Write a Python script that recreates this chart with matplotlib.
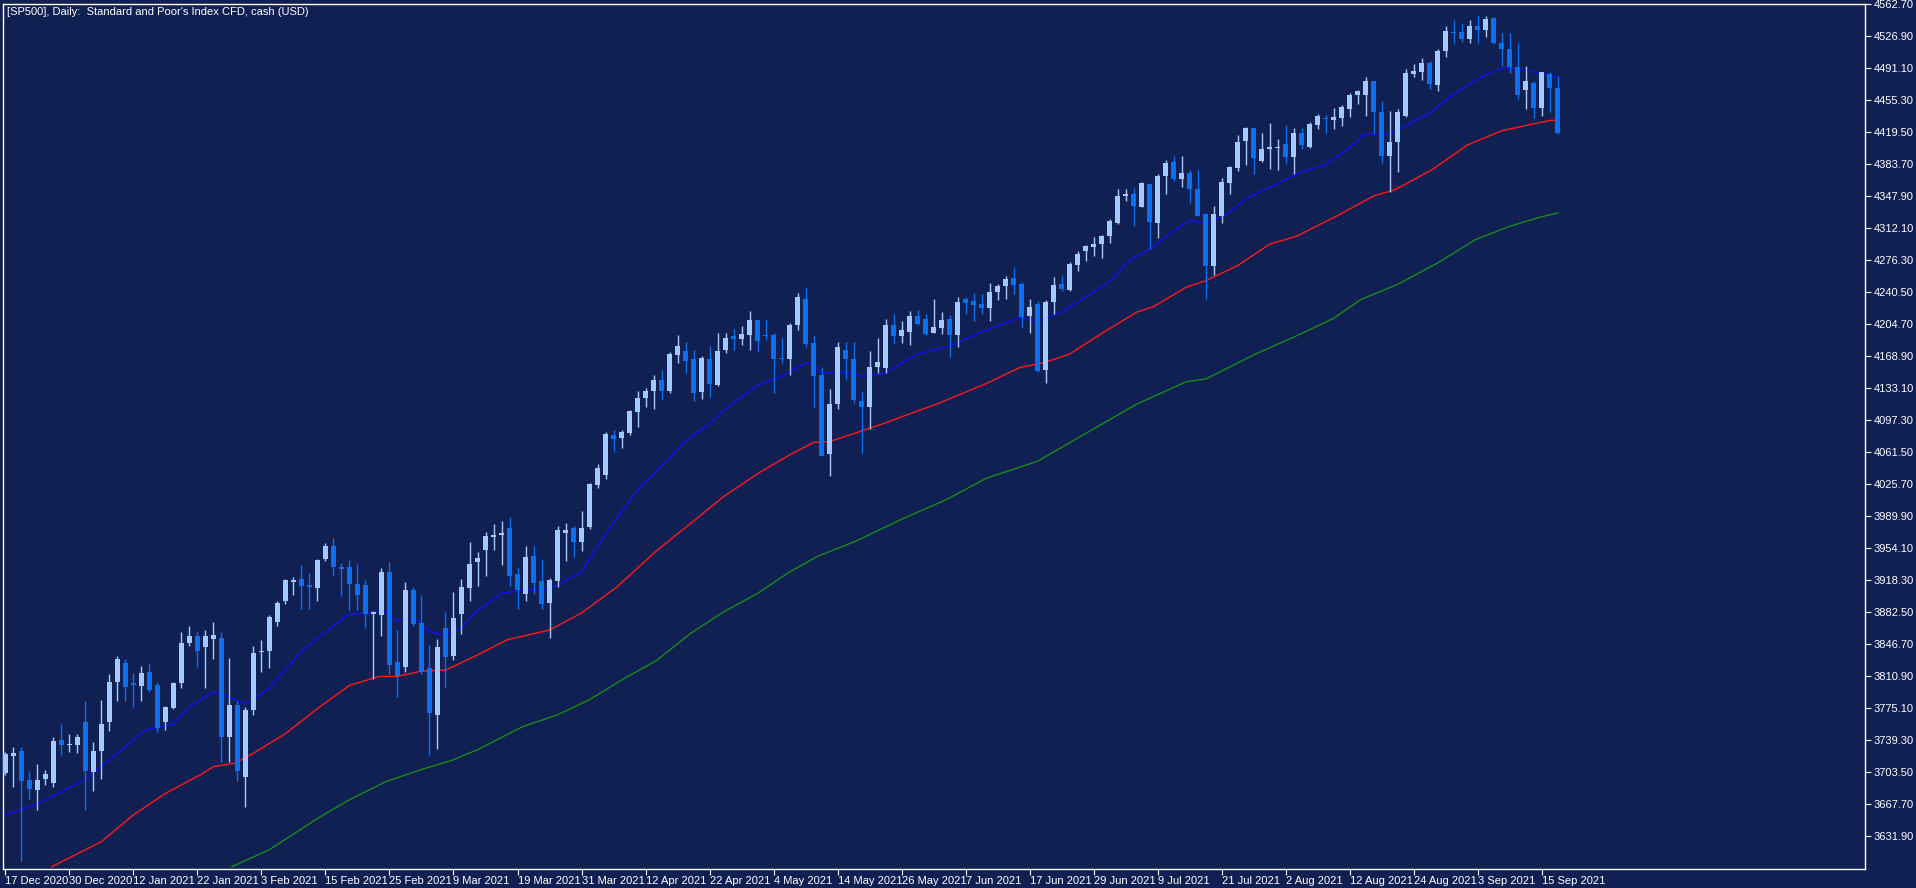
import matplotlib
matplotlib.use("Agg")
import matplotlib.pyplot as plt
import numpy as np

# ---- data ----
opens = [3702, 3721, 3727, 3694, 3683, 3695, 3691, 3739, 3733, 3733,
         3759, 3703, 3726, 3759, 3804, 3825, 3803, 3799, 3815, 3800,
         3759, 3775, 3803, 3848, 3855, 3843, 3852, 3853, 3742, 3778,
         3697, 3772, 3837, 3839, 3871, 3895, 3916, 3919, 3912, 3909,
         3941, 3956, 3933, 3933, 3914, 3912, 3880, 3879, 3927, 3826,
         3821, 3907, 3870, 3819, 3767, 3864, 3833, 3880, 3909, 3938,
         3952, 3966, 3968, 3976, 3925, 3902, 3945, 3917, 3892, 3917,
         3971, 3976, 3960, 3977, 4024, 4035, 4080, 4077, 4083, 4106,
         4122, 4130, 4142, 4130, 4170, 4174, 4165, 4128, 4165, 4136,
         4176, 4191, 4188, 4192, 4209, 4192, 4192, 4166, 4165, 4203,
         4233, 4183, 4147, 4059, 4115, 4175, 4165, 4118, 4112, 4157,
         4155, 4203, 4191, 4196, 4214, 4210, 4195, 4200, 4210, 4192,
         4233, 4230, 4227, 4223, 4240, 4247, 4256, 4249, 4214, 4227,
         4153, 4229, 4249, 4243, 4271, 4286, 4291, 4294, 4303, 4318,
         4348, 4350, 4336, 4361, 4318, 4370, 4386, 4367, 4374, 4356,
         4328, 4270, 4326, 4363, 4379, 4409, 4424, 4387, 4400, 4402,
         4406, 4392, 4418, 4403, 4427, 4435, 4433, 4435, 4445, 4461,
         4461, 4477, 4442, 4393, 4408, 4438, 4484, 4487, 4497, 4472,
         4510, 4532, 4531, 4524, 4538, 4534, 4547, 4519, 4512, 4492,
         4467, 4475, 4446, 4485, 4469]
highs = [3725, 3731, 3731, 3704, 3712, 3705, 3742, 3757, 3746, 3746,
         3782, 3737, 3784, 3813, 3833, 3829, 3814, 3822, 3824, 3804,
         3777, 3804, 3860, 3867, 3860, 3862, 3871, 3860, 3831, 3783,
         3776, 3844, 3851, 3879, 3895, 3919, 3921, 3935, 3926, 3941,
         3959, 3965, 3937, 3940, 3936, 3918, 3883, 3931, 3938, 3862,
         3916, 3910, 3901, 3845, 3852, 3882, 3905, 3919, 3961, 3949,
         3972, 3981, 3984, 3989, 3933, 3956, 3956, 3942, 3920, 3979,
         3982, 3979, 3995, 4027, 4048, 4084, 4086, 4086, 4108, 4130,
         4133, 4148, 4153, 4173, 4192, 4184, 4175, 4169, 4180, 4195,
         4195, 4199, 4202, 4219, 4210, 4210, 4194, 4189, 4206, 4239,
         4246, 4192, 4157, 4132, 4184, 4184, 4184, 4128, 4174, 4189,
         4210, 4216, 4208, 4219, 4220, 4216, 4233, 4218, 4215, 4235,
         4235, 4239, 4238, 4250, 4249, 4258, 4268, 4252, 4233, 4230,
         4231, 4257, 4259, 4274, 4286, 4293, 4302, 4304, 4322, 4356,
         4356, 4357, 4364, 4361, 4372, 4388, 4393, 4393, 4377, 4377,
         4329, 4337, 4368, 4381, 4416, 4425, 4425, 4418, 4430, 4412,
         4427, 4424, 4424, 4431, 4440, 4439, 4446, 4450, 4463, 4467,
         4481, 4477, 4454, 4443, 4445, 4490, 4496, 4502, 4499, 4513,
         4538, 4545, 4542, 4545, 4551, 4550, 4548, 4530, 4530, 4519,
         4493, 4477, 4487, 4487, 4482]
lows = [3700, 3686, 3603, 3673, 3661, 3688, 3686, 3722, 3725, 3724,
        3660, 3682, 3695, 3749, 3783, 3783, 3776, 3783, 3793, 3748,
        3750, 3774, 3797, 3844, 3821, 3797, 3829, 3714, 3714, 3693,
        3664, 3767, 3815, 3819, 3866, 3891, 3901, 3885, 3885, 3895,
        3939, 3923, 3900, 3884, 3884, 3864, 3807, 3855, 3813, 3787,
        3815, 3866, 3813, 3722, 3729, 3798, 3828, 3857, 3895, 3911,
        3922, 3952, 3935, 3911, 3885, 3895, 3902, 3886, 3853, 3910,
        3939, 3944, 3951, 3975, 4021, 4031, 4061, 4066, 4080, 4089,
        4112, 4110, 4120, 4127, 4161, 4150, 4118, 4121, 4123, 4135,
        4172, 4175, 4181, 4175, 4174, 4187, 4127, 4161, 4147, 4198,
        4179, 4111, 4057, 4034, 4110, 4142, 4116, 4060, 4087, 4150,
        4150, 4182, 4183, 4181, 4203, 4192, 4194, 4193, 4168, 4179,
        4216, 4208, 4216, 4208, 4231, 4233, 4238, 4201, 4194, 4151,
        4138, 4216, 4242, 4242, 4264, 4275, 4281, 4278, 4295, 4317,
        4342, 4314, 4336, 4289, 4301, 4350, 4365, 4358, 4340, 4326,
        4233, 4260, 4318, 4350, 4376, 4383, 4373, 4386, 4378, 4377,
        4384, 4372, 4400, 4402, 4423, 4418, 4423, 4426, 4436, 4451,
        4437, 4418, 4385, 4352, 4375, 4436, 4481, 4478, 4468, 4465,
        4504, 4518, 4520, 4519, 4519, 4526, 4518, 4493, 4486, 4457,
        4445, 4435, 4438, 4442, 4417]
closes = [3723, 3724, 3693, 3684, 3694, 3701, 3738, 3733, 3734, 3742,
          3704, 3727, 3757, 3804, 3830, 3798, 3800, 3814, 3795, 3752,
          3776, 3803, 3848, 3855, 3838, 3855, 3856, 3742, 3778, 3704,
          3772, 3836, 3839, 3877, 3892, 3918, 3918, 3911, 3910, 3940,
          3956, 3933, 3930, 3913, 3901, 3880, 3882, 3927, 3823, 3811,
          3907, 3869, 3815, 3769, 3843, 3832, 3875, 3910, 3936, 3943,
          3967, 3968, 3971, 3922, 3907, 3944, 3915, 3891, 3918, 3974,
          3974, 3960, 3976, 4025, 4043, 4081, 4076, 4084, 4107, 4122,
          4130, 4142, 4130, 4171, 4180, 4163, 4127, 4166, 4137, 4174,
          4189, 4188, 4193, 4209, 4186, 4191, 4165, 4165, 4204, 4235,
          4182, 4146, 4057, 4115, 4179, 4165, 4119, 4112, 4157, 4162,
          4203, 4191, 4198, 4214, 4205, 4193, 4201, 4209, 4192, 4229,
          4228, 4226, 4223, 4240, 4247, 4255, 4248, 4213, 4224, 4152,
          4229, 4248, 4244, 4272, 4283, 4292, 4294, 4303, 4320, 4348,
          4350, 4337, 4362, 4319, 4370, 4385, 4367, 4374, 4356, 4326,
          4270, 4328, 4364, 4380, 4408, 4424, 4390, 4400, 4403, 4402,
          4392, 4418, 4405, 4429, 4438, 4434, 4436, 4448, 4461, 4466,
          4477, 4442, 4393, 4408, 4442, 4486, 4488, 4497, 4473, 4510,
          4533, 4530, 4524, 4538, 4534, 4546, 4519, 4512, 4492, 4461,
          4477, 4446, 4487, 4469, 4418]

# moving averages as read (bar position, value)
ma_fast_x = [0, 4, 10, 14, 17.5, 21, 23, 26, 28, 30, 33, 37, 40, 43, 46, 47, 49, 50, 51.5,
             53, 55, 57, 58.6, 62, 65, 68, 72, 75.6, 79, 82.7, 85, 87.7, 90.6, 94, 97,
             100, 101, 102, 104.7, 107, 109.8, 112, 114, 118, 122.6, 126.8, 129, 131.8,
             135, 138, 140.5, 143, 146, 148, 150, 152.6, 155, 159, 162, 165, 168, 170,
             172.5, 174.7, 178, 181.6, 184.8, 187.4, 190, 192, 194]
ma_fast_y = [3655, 3667, 3695, 3724, 3750, 3757, 3776, 3793, 3787, 3779, 3797, 3838, 3860, 3880,
             3881, 3885, 3872, 3876, 3873, 3860, 3856, 3864, 3881, 3903, 3907, 3908, 3927,
             3977, 4019, 4052, 4074, 4091, 4114, 4136, 4146, 4161, 4160, 4149, 4151, 4146,
             4149, 4161, 4171, 4180, 4198, 4212, 4208, 4217, 4235, 4252, 4276, 4288, 4309,
             4321, 4317, 4327, 4345, 4362, 4375, 4383, 4402, 4418, 4416, 4425, 4441, 4466,
             4483, 4492, 4489, 4485, 4481]
ma_mid_x = [5.8, 12, 16, 20, 24.6, 26, 28.7, 31, 35, 39, 43, 46.7, 49, 52, 55, 59, 62.7, 68,
            72, 76.4, 81.4, 85.6, 89.7, 94, 98, 101, 103, 106.4, 109.7, 113, 116.4, 122.6,
            126.8, 129.7, 133, 137, 141.4, 143.5, 147.6, 150, 154, 158, 161.4, 166.7, 171,
            173.7, 178.4, 182.7, 187, 190.6, 193.3, 194]
ma_mid_y = [3597, 3625, 3655, 3679, 3701, 3709, 3713, 3724, 3746, 3774, 3800, 3810, 3810, 3816,
            3817, 3834, 3851, 3862, 3881, 3910, 3951, 3981, 4011, 4037, 4058, 4072, 4073,
            4083, 4093, 4104, 4115, 4138, 4156, 4161, 4171, 4194, 4218, 4224, 4246, 4253,
            4270, 4294, 4303, 4327, 4348, 4355, 4378, 4405, 4421, 4428, 4433, 4431]
ma_slow_x = [28.3, 33, 39, 43, 47.5, 51.7, 55.8, 59, 64.7, 69, 73, 77, 81.4, 85.6, 89.7, 94,
             98, 101.4, 106.4, 112, 117.6, 122.6, 129, 135, 141.4, 147.6, 150, 156, 162,
             166, 169.4, 174, 179, 183.7, 188, 191.7, 194]
ma_slow_y = [3597, 3616, 3651, 3672, 3692, 3705, 3716, 3728, 3754, 3767, 3784, 3806, 3828,
             3858, 3882, 3903, 3927, 3944, 3962, 3986, 4008, 4032, 4051, 4082, 4115, 4140,
             4143, 4170, 4194, 4211, 4232, 4249, 4273, 4299, 4314, 4324, 4329]

date_labels = ["17 Dec 2020", "30 Dec 2020", "12 Jan 2021", "22 Jan 2021", "3 Feb 2021",
               "15 Feb 2021", "25 Feb 2021", "9 Mar 2021", "19 Mar 2021", "31 Mar 2021",
               "12 Apr 2021", "22 Apr 2021", "4 May 2021", "14 May 2021", "26 May 2021",
               "7 Jun 2021", "17 Jun 2021", "29 Jun 2021", "9 Jul 2021", "21 Jul 2021",
               "2 Aug 2021", "12 Aug 2021", "24 Aug 2021", "3 Sep 2021", "15 Sep 2021"]
price_ticks = [3631.9 + 35.8 * k for k in range(27)]

BG = "#112052"
BULL = "#a3c9ff"
BEAR = "#0b6ff0"
FG = "white"

plt.rcParams["font.family"] = ["Liberation Sans", "DejaVu Sans"]

fig = plt.figure(figsize=(19.16, 8.88), dpi=100, facecolor=BG)
ax = fig.add_axes([3 / 1916, 19 / 888, 1862 / 1916, 865 / 888], facecolor=BG)

o = np.array(opens); h = np.array(highs); l = np.array(lows); c = np.array(closes)
x = np.arange(len(o))
up = c >= o
cols = np.where(up, BULL, BEAR)
ax.vlines(x, l, h, colors=cols, linewidth=1.0, zorder=2)
body_lo = np.minimum(o, c)
body_h = np.maximum(np.abs(c - o), 0.9)
ax.bar(x, body_h, bottom=body_lo, width=0.62, color=cols, linewidth=0, zorder=3)

ax.plot(ma_slow_x, ma_slow_y, color="#1a8a1a", linewidth=1.0, zorder=1)
ax.plot(ma_mid_x, ma_mid_y, color="#ff1a1a", linewidth=1.0, zorder=1)
ax.plot(ma_fast_x, ma_fast_y, color="#1010ff", linewidth=1.0, zorder=1)

ax.set_xlim(-0.3, 232.4)
ax.set_ylim(3594.4, 4562.9)
for s in ax.spines.values():
    s.set_color(FG)
    s.set_linewidth(1.0)

ax.yaxis.tick_right()
ax.set_yticks(price_ticks)
ax.set_yticklabels([f"{v:.2f}" for v in price_ticks])
ax.tick_params(axis="y", colors=FG, labelcolor=FG, labelsize=8, length=4, pad=2)
ax.set_xticks(np.arange(len(date_labels)) * 8)
ax.set_xticklabels(date_labels, ha="left")
ax.tick_params(axis="x", colors=FG, labelcolor=FG, labelsize=8, length=4, pad=1)

ax.text(0.002, 0.997, "[SP500], Daily:  Standard and Poor's Index CFD, cash (USD)",
        transform=ax.transAxes, color=FG, fontsize=8, va="top", ha="left")

fig.savefig("out.png", dpi=100, facecolor=BG)
